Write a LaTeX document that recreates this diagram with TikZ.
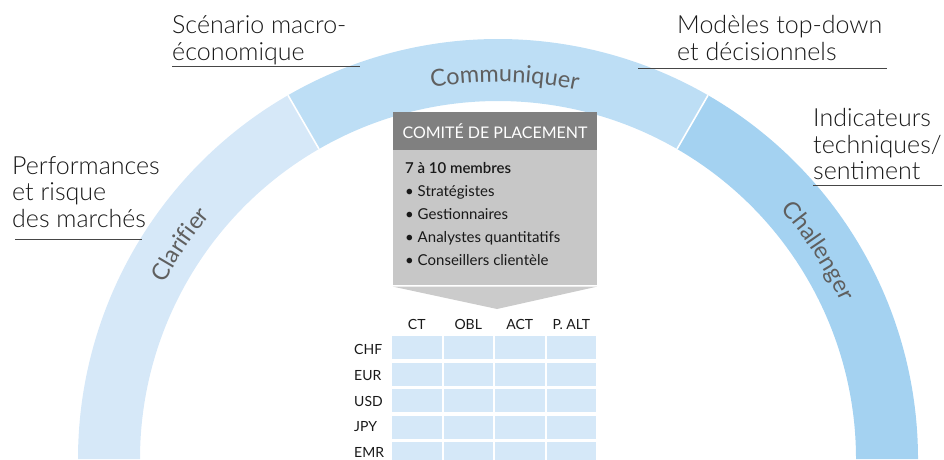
\documentclass[tikz,border=0pt]{standalone}
\usepackage{fontspec}
\setmainfont{Lato Light}[BoldFont={Lato Medium}]
\newfontfamily\regfont{Lato}[BoldFont={Lato Semibold}]
\usetikzlibrary{decorations.text}
\definecolor{clarblue}{RGB}{214,232,248}
\definecolor{commblue}{RGB}{189,222,245}
\definecolor{challblue}{RGB}{164,210,241}
\definecolor{cellblue}{RGB}{213,232,248}
\definecolor{headgray}{RGB}{128,128,128}
\definecolor{bodygray}{RGB}{199,199,199}
\definecolor{arrowgray}{RGB}{203,203,203}
\definecolor{labgray}{RGB}{95,95,95}
\definecolor{txtdark}{RGB}{25,25,25}
\definecolor{linegray}{RGB}{70,70,70}
\tikzset{
  outlabel/.style={anchor=north west, inner sep=0pt, align=left, text=txtdark, font=\fontsize{25}{26.8}\selectfont},
  underline/.style={draw=linegray, line width=1pt},
  cell/.style={fill=cellblue, minimum width=49.5pt, minimum height=23pt, inner sep=0pt, anchor=north west},
  colhead/.style={anchor=base, inner sep=0pt, text=txtdark, font=\regfont\fontsize{14}{14}\selectfont},
  rowhead/.style={anchor=base west, inner sep=0pt, text=txtdark, font=\regfont\fontsize{14}{14}\selectfont},
  arclabel/.style={decorate, decoration={text along path, text align=center, text={#1}}}
}

\begin{document}
\begin{tikzpicture}[x=1pt, y=1pt]
\pgfmathsetmacro\cx{498}
\pgfmathsetmacro\ro{420}
\pgfmathsetmacro\ri{358}
\pgfmathsetmacro\rt{377}
\useasboundingbox (0,0) rectangle (944,459);
\begin{scope}[shift={(\cx,0)}]
\fill[clarblue] (180:\ro) arc[start angle=180, end angle=120, radius=\ro] -- (120:\ri) arc[start angle=120, end angle=180, radius=\ri] -- cycle;
\fill[commblue] (120:\ro) arc[start angle=120, end angle=60, radius=\ro] -- (60:\ri) arc[start angle=60, end angle=120, radius=\ri] -- cycle;
\fill[challblue] (60:\ro) arc[start angle=60, end angle=0, radius=\ro] -- (0:\ri) arc[start angle=0, end angle=60, radius=\ri] -- cycle;
\draw[white, line width=1.6pt] (120:\ri) -- (120:\ro) (60:\ri) -- (60:\ro);
\path[arclabel={|\regfont\fontsize{23.5}{23.5}\selectfont\color{labgray}|Clarifier}] (166:\rt) arc[start angle=166, end angle=126, radius=\rt];
\path[arclabel={|\regfont\fontsize{23.5}{23.5}\selectfont\color{labgray}|Communiquer}] (111:\rt) arc[start angle=111, end angle=67, radius=\rt];
\path[arclabel={|\regfont\fontsize{23.5}{23.5}\selectfont\color{labgray}|Challenger}] (54:\rt) arc[start angle=54, end angle=12, radius=\rt];
\end{scope}

\node[outlabel] (scen) at (172,443.5) {Scénario macro-\\économique};
\node[outlabel] (models) at (677,444) {Modèles top-down\\et décisionnels};
\node[outlabel] (indic) at (813,351) {Indicateurs\\techniques/\\sentiment};
\node[outlabel] (perf) at (12,303) {Performances\\et risque\\des marchés};
\draw[underline] (172,392.3) -- (360,392.3);
\draw[underline] (638,390.7) -- (887,390.7);
\draw[underline] (813,274) -- (942,274);
\draw[underline] (15,219.7) -- (142,219.7);

\node[fill=headgray, text=white, minimum width=204pt, minimum height=38pt, inner sep=0pt, font=\regfont\fontsize{16}{16}\selectfont] (head) at (495,328) {COMITÉ DE PLACEMENT};
\node[fill=bodygray, minimum width=204pt, minimum height=135pt, inner sep=0pt, anchor=north] (body) at (head.south) {};
\coordinate (tip) at (497,150);
\fill[arrowgray] ([yshift=-1pt]body.south west) -- ([yshift=-1pt]body.south east) -- (tip) -- cycle;
\node[anchor=north west, inner sep=0pt, align=left, text=txtdark, font=\regfont\fontsize{15}{23}\selectfont] (members) at (405,297) {\textbf{7 à 10 membres}\\\textbullet\ Stratégistes\\\textbullet\ Gestionnaires\\\textbullet\ Analystes quantitatifs\\\textbullet\ Conseillers clientèle};

\foreach \cur [count=\i from 0] in {CHF,EUR,USD,JPY,EMR} {
  \node[rowhead] (row\i) at (354,104.5-25.8*\i) {\cur};
  \foreach \j in {0,...,3}
    \node[cell] (cell\i\j) at (392+51.5*\j,123-26.5*\i) {};
}
\foreach \col [count=\j from 0] in {CT,OBL,ACT,P. ALT}
  \node[colhead] (col\j) at (416.75+51.5*\j,130) {\col};
\end{tikzpicture}
\end{document}
